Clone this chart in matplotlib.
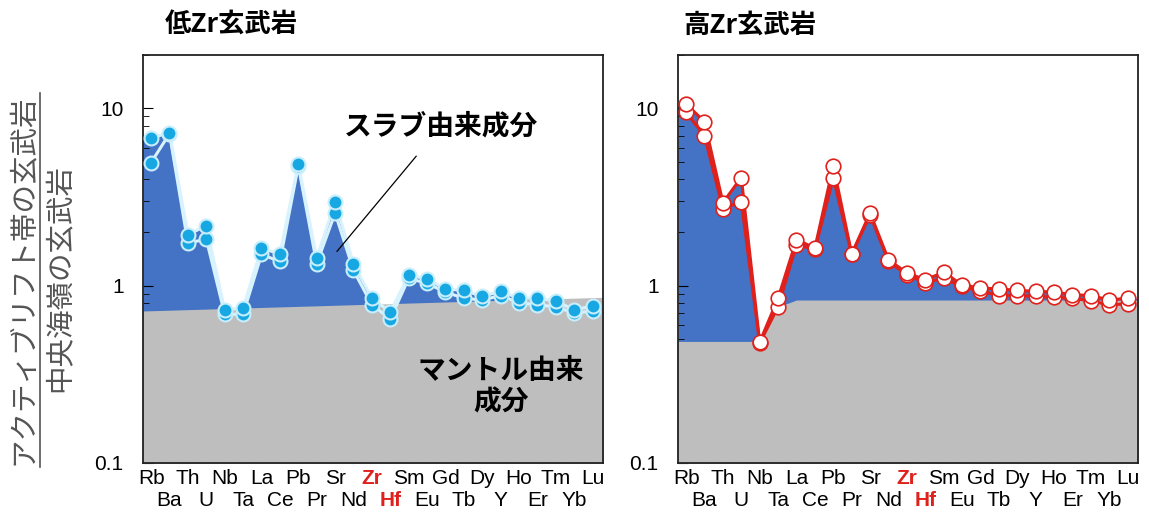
import numpy as np
import matplotlib
matplotlib.use('Agg')
import matplotlib.pyplot as plt
from matplotlib.lines import Line2D
from matplotlib.ticker import NullFormatter, FixedLocator, FixedFormatter

plt.rcParams['font.family'] = ['Liberation Sans', 'DejaVu Sans']
jp = ['Noto Sans CJK JP', 'DejaVu Sans']

elements = ['Rb', 'Ba', 'Th', 'U', 'Nb', 'Ta', 'La', 'Ce', 'Pb', 'Pr', 'Sr', 'Nd', 'Zr',
            'Hf', 'Sm', 'Eu', 'Gd', 'Tb', 'Dy', 'Y', 'Ho', 'Er', 'Tm', 'Yb', 'Lu']

# low Zr basalts (two samples)
low_zr_a = [6.8, 7.3, 1.94, 2.18, 0.73, 0.75, 1.63, 1.51, 4.87, 1.43, 2.98, 1.33, 0.85,
            0.71, 1.15, 1.09, 0.96, 0.94, 0.87, 0.93, 0.85, 0.85, 0.82, 0.73, 0.77]
low_zr_b = [4.95, 7.2, 1.74, 1.83, 0.69, 0.69, 1.50, 1.37, 4.74, 1.33, 2.57, 1.22, 0.78,
            0.65, 1.10, 1.03, 0.92, 0.85, 0.83, 0.88, 0.80, 0.78, 0.76, 0.70, 0.72]
low_zr_mantle = [0.72, 0.86]  # left edge, right edge

# high Zr basalts (two samples)
high_zr_a = [10.6, 8.4, 2.94, 4.07, 0.48, 0.85, 1.82, 1.63, 4.74, 1.51, 2.57, 1.40, 1.18,
             1.08, 1.19, 1.01, 0.97, 0.96, 0.94, 0.93, 0.92, 0.89, 0.88, 0.83, 0.85]
high_zr_b = [9.5, 7.0, 2.72, 2.98, 0.475, 0.76, 1.70, 1.60, 4.05, 1.50, 2.51, 1.37, 1.15,
             1.04, 1.10, 0.99, 0.93, 0.88, 0.88, 0.87, 0.86, 0.85, 0.82, 0.78, 0.79]
high_zr_mantle = [0.485, 0.485, 0.485, 0.485, 0.485, 0.76, 0.83, 0.83, 0.83, 0.83, 0.83,
                  0.83, 0.83, 0.83, 0.83, 0.83, 0.83, 0.83, 0.83, 0.83, 0.83, 0.83, 0.83,
                  0.83, 0.83]

BLUE = '#4472C4'
GRAY = '#BEBEBE'
RED = '#E0201B'
XLIM = (-0.44, 24.56)

x = np.arange(len(elements))
xe = np.concatenate([[XLIM[0]], x, [XLIM[1]]])


def edge(vals):
    vals = list(vals)
    return np.array([vals[0]] + vals + [vals[-1]])


fig = plt.figure(figsize=(11.49, 5.21), dpi=100)
W, H = 1149, 521
ax1 = fig.add_axes([143 / W, (H - 463) / H, 460 / W, 408 / H])
ax2 = fig.add_axes([678 / W, (H - 463) / H, 460 / W, 408 / H])


def style(ax):
    ax.set_yscale('log')
    ax.set_ylim(0.1, 20)
    ax.set_xlim(*XLIM)
    ax.set_yticks([0.1, 1, 10], ['0.1', '1', '10'])
    ax.yaxis.set_minor_formatter(NullFormatter())
    ax.tick_params(axis='y', which='major', direction='in', length=7, pad=14, labelsize=15)
    ax.tick_params(axis='y', which='minor', direction='in', length=4)
    # upper row on major ticks, lower row on minor ticks
    ax.xaxis.set_major_locator(FixedLocator(x[0::2]))
    ax.xaxis.set_major_formatter(FixedFormatter(elements[0::2]))
    ax.xaxis.set_minor_locator(FixedLocator(x[1::2]))
    ax.xaxis.set_minor_formatter(FixedFormatter(elements[1::2]))
    ax.tick_params(axis='x', which='major', direction='in', length=5, pad=4, labelsize=15)
    ax.tick_params(axis='x', which='minor', direction='in', length=5, pad=20.5, labelsize=15)
    for lab in ax.xaxis.get_majorticklabels():
        if lab.get_text() == 'Zr':
            lab.set_color(RED)
            lab.set_fontweight('bold')
    for lab in ax.xaxis.get_minorticklabels():
        if lab.get_text() == 'Hf':
            lab.set_color(RED)
            lab.set_fontweight('bold')
    for s in ax.spines.values():
        s.set_linewidth(1.3)
        s.set_color('#222222')


# left panel
up = np.maximum(low_zr_a, low_zr_b)
ax1.fill_between(xe, 0.1, edge(up), color=BLUE, lw=0, zorder=1)
ax1.fill_between(XLIM, 0.1, low_zr_mantle, color=GRAY, lw=0, zorder=2)
for s in (low_zr_b, low_zr_a):
    ax1.plot(x, s, '-', color='#d8f3fd', lw=2.2, zorder=3)
    ax1.plot(x, s, 'o', ms=10, mfc='#17a8e3', mec='#c8eefc', mew=1.5, zorder=4)
style(ax1)
ax1.annotate('スラブ由来成分', xy=(10.1, 1.56), xytext=(15.75, 7.9), family=jp,
             fontsize=20, fontweight='bold', ha='center', va='center',
             arrowprops=dict(arrowstyle='-', color='black', lw=0.9, shrinkA=12, shrinkB=0))
ax1.text(19.0, 0.27, 'マントル由来\n成分', family=jp, fontsize=20, fontweight='bold',
         ha='center', va='center', linespacing=1.15, zorder=5)

# right panel
up2 = np.maximum(high_zr_a, high_zr_b)
ax2.fill_between(xe, 0.1, edge(up2), color=BLUE, lw=0, zorder=1)
ax2.fill_between(xe, 0.1, edge(high_zr_mantle), color=GRAY, lw=0, zorder=2)
for s in (high_zr_b, high_zr_a):
    ax2.plot(x, s, '-', color=RED, lw=2.2, zorder=3)
    ax2.plot(x, s, 'o', ms=10.5, mfc='white', mec=RED, mew=1.2, zorder=4)
style(ax2)

# titles
fig.text(165 / W, 1 - 25 / H, '低Zr玄武岩', family=jp, fontsize=19, fontweight='bold',
         ha='left', va='center')
fig.text(683 / W, 1 - 25 / H, '高Zr玄武岩', family=jp, fontsize=19, fontweight='bold',
         ha='left', va='center')

# y label as a fraction
fig.text(23 / W, 1 - 280 / H, 'アクティブリフト帯の玄武岩', family=jp, fontsize=20.5,
         color='#555555', rotation=90, ha='center', va='center')
fig.text(60 / W, 1 - 278 / H, '中央海嶺の玄武岩', family=jp, fontsize=20.5,
         color='#555555', rotation=90, ha='center', va='center')
fig.add_artist(Line2D([40 / W, 40 / W], [1 - 93 / H, 1 - 467 / H], color='#555555', lw=1.2))

fig.savefig('out.png', dpi=100)
